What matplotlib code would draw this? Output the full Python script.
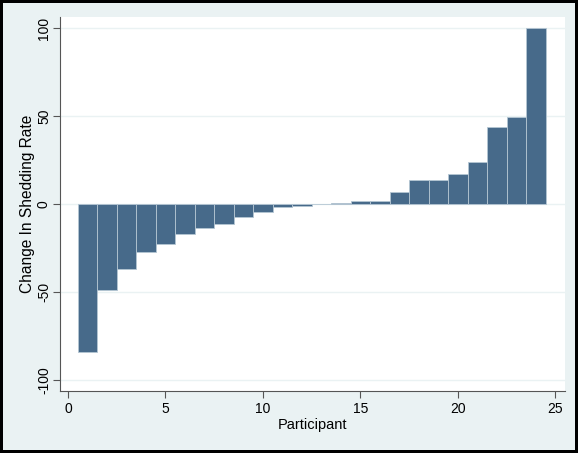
import numpy as np
import matplotlib.pyplot as plt

plt.rcParams['font.family'] = ['Liberation Sans', 'DejaVu Sans']

# change in shedding rate per participant, sorted
participant = np.arange(1, 25)
change = [-84.3, -49.0, -37.1, -27.3, -22.9, -17.2, -13.8, -11.2, -7.6, -4.7,
          -1.9, -1.0, 0.0, 0.6, 1.5, 1.5, 6.6, 13.8, 13.8, 16.9,
          23.9, 43.6, 49.4, 100.0]

yticks = [-100, -50, 0, 50, 100]
xticks = [0, 5, 10, 15, 20, 25]

bg = '#EAF2F3'
fig = plt.figure(figsize=(5.78, 4.53), dpi=100)
fig.patch.set_facecolor(bg)
fig.patch.set_edgecolor('black')
fig.patch.set_linewidth(3)

ax = fig.add_axes([60/578, 1 - 391/453, (565-60)/578, (391-17)/453])
ax.set_facecolor('white')

for y in yticks:
    ax.axhline(y, color=bg, lw=1, zorder=0)

ax.bar(participant, change, width=1.0, color='#476A8A',
       edgecolor='#B5C6D3', linewidth=0.6, zorder=2)

ax.set_xlim(-0.41, 25.5)
ax.set_ylim(-106.25, 106.25)
ax.set_xticks(xticks)
ax.set_yticks(yticks)
ax.set_yticklabels([str(v) for v in yticks], rotation=90, va='center')
ax.tick_params(axis='both', direction='out', length=5, width=0.8,
               color='#555555', labelsize=10, pad=3)
ax.tick_params(axis='y', pad=1.5)

for s in ['top', 'right']:
    ax.spines[s].set_visible(False)
for s in ['left', 'bottom']:
    ax.spines[s].set_color('#555555')
    ax.spines[s].set_linewidth(0.8)

ax.set_xlabel('Participant', fontsize=10.5, labelpad=1)
ax.set_ylabel('Change In Shedding Rate', fontsize=11.2)
ax.yaxis.set_label_coords(-0.05, 0.5)

fig.savefig('out.png', dpi=100, facecolor=bg, edgecolor='black')
